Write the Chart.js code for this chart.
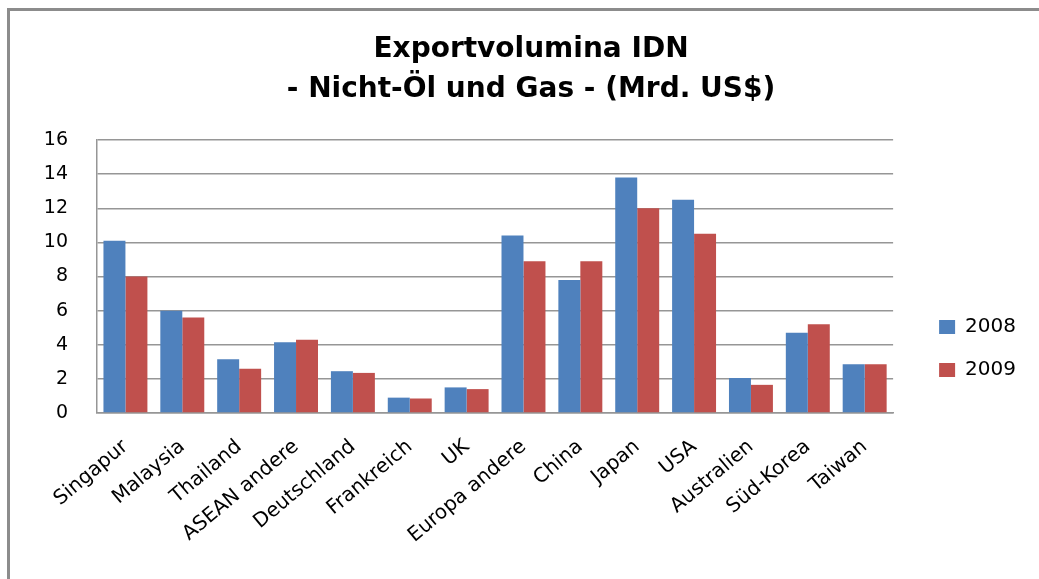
<!DOCTYPE html>
<html>
<head>
<meta charset="utf-8">
<script src="https://cdn.jsdelivr.net/npm/chart.js@4.4.1/dist/chart.umd.min.js"></script>
<style>
  html, body { margin: 0; padding: 0; background: #fff; }
  #wrap { position: relative; width: 1039px; height: 579px; overflow: hidden; }
  #frame {
    position: absolute; left: 7px; top: 8px; right: -10px; bottom: -10px;
    border-left: 3px solid #8c8c8c; border-top: 3px solid #8c8c8c;
    pointer-events: none;
  }
</style>
</head>
<body>
<div id="wrap">
  <canvas id="chart" width="1039" height="579"></canvas>
  <div id="frame"></div>
</div>
<script>
// Daten (Mrd. US$)
const categories = ['Singapur', 'Malaysia', 'Thailand', 'ASEAN andere', 'Deutschland', 'Frankreich', 'UK',
  'Europa andere', 'China', 'Japan', 'USA', 'Australien', 'Süd-Korea', 'Taiwan'];
const values2008 = [10.1, 6.0, 3.15, 4.15, 2.45, 0.9, 1.5, 10.4, 7.8, 13.8, 12.5, 2.05, 4.7, 2.85];
const values2009 = [8.0, 5.6, 2.6, 4.3, 2.35, 0.85, 1.4, 8.9, 8.9, 12.0, 10.5, 1.65, 5.2, 2.85];
const seriesNames = ['2008', '2009'];
const titleLines = ['Exportvolumina IDN', '- Nicht-Öl und Gas - (Mrd. US$)'];
const yMax = 16;
const yStep = 2;

const FONT = "'DejaVu Sans', sans-serif";
const gridColor = '#969696';

// Legende und Titel etwas verschieben (wie im Original)
const boxShift = {
  id: 'boxShift',
  afterLayout(chart) {
    const lg = chart.legend;
    if (lg) {
      lg.left += 23; lg.right += 23;
      lg.top += 54; lg.bottom += 54;
    }
    const tb = chart.titleBlock;
    if (tb) {
      tb.left += 18; tb.right += 18;
    }
  }
};

new Chart(document.getElementById('chart'), {
  type: 'bar',
  data: {
    labels: categories,
    datasets: [
      { label: seriesNames[0], data: values2008, backgroundColor: '#4F81BD' },
      { label: seriesNames[1], data: values2009, backgroundColor: '#C0504D' }
    ]
  },
  options: {
    responsive: false,
    animation: false,
    devicePixelRatio: 1,
    layout: { padding: { left: 23, right: 36, top: 10, bottom: 0 } },
    datasets: {
      bar: { categoryPercentage: 0.773, barPercentage: 1.0 }
    },
    plugins: {
      title: {
        display: true,
        text: titleLines,
        color: '#000',
        font: { family: FONT, size: 28, weight: 'bold', lineHeight: 40 / 28 },
        padding: { top: 20, bottom: 30 }
      },
      legend: {
        position: 'right',
        labels: {
          color: '#000',
          font: { family: FONT, size: 20 },
          boxWidth: 16,
          boxHeight: 14,
          padding: 23
        }
      },
      tooltip: { enabled: false }
    },
    scales: {
      x: {
        grid: { display: false, drawTicks: false },
        border: { display: true, color: gridColor, width: 1.5 },
        ticks: {
          color: '#000',
          font: { family: FONT, size: 20 },
          autoSkip: false,
          minRotation: 40,
          maxRotation: 40,
          padding: 22
        },
        afterFit(scale) { scale.height = 166; }
      },
      y: {
        min: 0,
        max: yMax,
        grid: { color: gridColor, lineWidth: 1.5, drawTicks: false },
        border: { display: true, color: gridColor, width: 1.5 },
        ticks: {
          stepSize: yStep,
          color: '#000',
          font: { family: FONT, size: 19 },
          padding: 29
        },
        afterFit(scale) { scale.width = 74; }
      }
    }
  },
  plugins: [boxShift]
});
</script>
</body>
</html>
